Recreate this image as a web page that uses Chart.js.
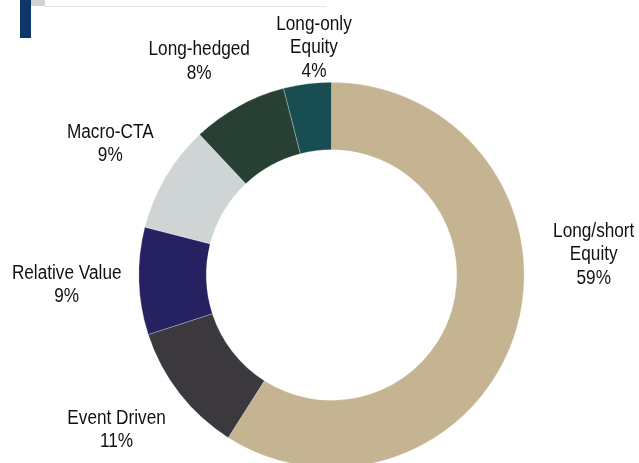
<!DOCTYPE html>
<html>
<head>
<meta charset="utf-8">
<script src="https://cdn.jsdelivr.net/npm/chart.js@4/dist/chart.umd.min.js"></script>
<style>
  html, body { margin: 0; padding: 0; background: #fff; overflow: hidden; }
  #wrap { position: relative; width: 639px; height: 470px; }
  .deco { position: absolute; }
</style>
</head>
<body>
<div id="wrap">
  <div class="deco" style="left:20px;top:0;width:11px;height:38px;background:#0d3769;"></div>
  <div class="deco" style="left:31px;top:0;width:14px;height:6px;background:#d2d2d2;"></div>
  <div class="deco" style="left:45px;top:6px;width:281px;height:1px;background:#e2e2e2;"></div>
  <canvas id="donut"></canvas>
</div>
<script>
// strategy mix, clockwise from 12 o'clock
const categories = ["Long/short Equity", "Event Driven", "Relative Value", "Macro-CTA", "Long-hedged", "Long-only Equity"];
const shares = [59, 11, 9, 9, 8, 4];
const labelLines = [["Long/short", "Equity"], ["Event Driven"], ["Relative Value"], ["Macro-CTA"], ["Long-hedged"], ["Long-only", "Equity"]];

const colors = ["#c4b492", "#3b393e", "#262262", "#cfd4d5", "#283f33", "#184e52"];

// label placement: distance from centre and angle nudge (deg) from slice middle
const labelDist = [263, 265, 265, 257, 251, 228];
const labelShift = [-20.6, 2, -0.4, 0, -3, 2.8];

const outsideLabels = {
  id: "outsideLabels",
  afterDraw(chart) {
    const ctx = chart.ctx;
    const meta = chart.getDatasetMeta(0);
    ctx.save();
    ctx.font = '20px "Liberation Sans", Arial, sans-serif';
    ctx.fillStyle = "#111";
    ctx.textAlign = "center";
    ctx.textBaseline = "middle";
    const lineH = 23.5;
    meta.data.forEach((arc, i) => {
      const mid = (arc.startAngle + arc.endAngle) / 2 + labelShift[i] * Math.PI / 180;
      const cx = arc.x + Math.cos(mid) * labelDist[i];
      const cy = arc.y + Math.sin(mid) * labelDist[i];
      const lines = labelLines[i].concat([shares[i] + "%"]);
      const top = cy - (lines.length - 1) * lineH / 2;
      lines.forEach((t, k) => {
        // squeeze horizontally to get the condensed look
        ctx.save();
        ctx.translate(cx, top + k * lineH);
        ctx.scale(0.86, 1);
        ctx.fillText(t, 0, 0);
        ctx.restore();
      });
    });
    ctx.restore();
  }
};

const canvas = document.getElementById("donut");
canvas.width = 639;
canvas.height = 470;

new Chart(canvas.getContext("2d"), {
  type: "doughnut",
  data: {
    labels: categories,
    datasets: [{
      data: shares,
      backgroundColor: colors,
      borderColor: "rgba(255,255,255,0.45)",
      borderWidth: 0.6,
      hoverOffset: 0
    }]
  },
  options: {
    responsive: false,
    animation: false,
    cutout: "65%",
    layout: { padding: { top: 82, bottom: 2, left: 138.5, right: 114.5 } },
    plugins: {
      legend: { display: false },
      tooltip: { enabled: false }
    }
  },
  plugins: [outsideLabels]
});
</script>
</body>
</html>
